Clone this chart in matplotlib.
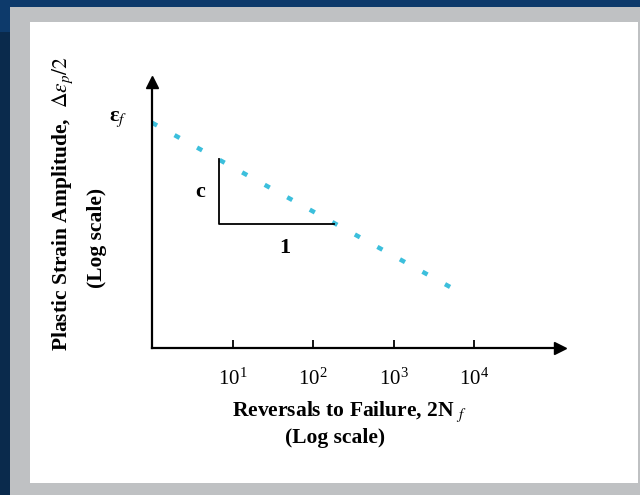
import matplotlib
matplotlib.use('Agg')
import matplotlib.pyplot as plt
from matplotlib.patches import Rectangle
from matplotlib.ticker import NullLocator

# values (both axes log scale)
reversals = [1, 5200]          # 2N_f at start / end of the dotted line
strain_amp = [1.0, 0.009]      # eps_p/2 at the same points
tri_x = [6.8, 6.8, 182]        # slope triangle corners
tri_y = [0.35, 0.0555, 0.0555]
xticks = [10, 100, 1000, 10000]
xlim = (1, 1.17e5)
ylim = (0.0016, 3.2)

W, H = 640, 495
plt.rcParams['font.family'] = ['Liberation Serif', 'DejaVu Serif']
plt.rcParams['mathtext.fontset'] = 'stix'

fig = plt.figure(figsize=(W / 100, H / 100), dpi=100)
fig.patch.set_facecolor('#0d3a6b')


def px_rect(x0, y0, x1, y1, color):
    # rectangle given in pixel coords, origin top-left
    fig.add_artist(Rectangle((x0 / W, 1 - y1 / H), (x1 - x0) / W, (y1 - y0) / H,
                             transform=fig.transFigure, facecolor=color,
                             edgecolor='none', zorder=-10))


px_rect(0, 32, 10, H, '#0a2a4c')
px_rect(10, 7, W, H, '#bfc1c3')
px_rect(30, 22, 638, 483, 'white')

ax = fig.add_axes([152 / W, 1 - 348 / H, (560 - 152) / W, (348 - 82) / H])
ax.patch.set_alpha(0)
ax.set_xscale('log')
ax.set_yscale('log')
ax.set_xlim(*xlim)
ax.set_ylim(*ylim)

for s in ['top', 'right']:
    ax.spines[s].set_visible(False)
for s in ['bottom', 'left']:
    ax.spines[s].set_linewidth(1.6)
    ax.spines[s].set_color('black')

# arrow heads
ax.plot(1, 0, '>k', ms=8, transform=ax.transAxes, clip_on=False)
ax.plot(0, 1, '^k', ms=8, transform=ax.transAxes, clip_on=False)

ax.set_xticks(xticks)
ax.xaxis.set_minor_locator(NullLocator())
ax.set_yticks([])
ax.yaxis.set_minor_locator(NullLocator())
ax.tick_params(axis='x', direction='in', length=6, width=1.3, pad=15, labelsize=15)

ax.plot(reversals, strain_amp, color='#3cbfdc', lw=3.2,
        linestyle=(0, (1.3, 4.49)), clip_on=False)
ax.plot(tri_x, tri_y, color='black', lw=1.3)

ax.text(4.0, 0.139, 'c', fontsize=16, fontweight='bold', ha='center', va='center')
ax.text(45, 0.028, '1', fontsize=16, fontweight='bold', ha='center', va='center')
ax.annotate('ε$_f$', xy=(1, 1.0), xytext=(-24, 3), textcoords='offset points',
            fontsize=16, fontweight='bold', ha='center', va='center',
            annotation_clip=False)

fig.text(350 / W, 1 - 412 / H, 'Reversals to Failure, 2N $_f$', fontsize=15.5,
         fontweight='bold', ha='center', va='center')
fig.text(335 / W, 1 - 438 / H, '(Log scale)', fontsize=15.5, fontweight='bold',
         ha='center', va='center')
fig.text(63 / W, 1 - 204 / H, r'Plastic Strain Amplitude,  $\Delta\varepsilon_p/2$',
         fontsize=15.5, fontweight='bold', rotation=90, ha='center', va='center')
fig.text(97 / W, 1 - 238 / H, '(Log scale)', fontsize=15.5, fontweight='bold',
         rotation=90, ha='center', va='center')

fig.savefig('out.png', dpi=100, facecolor=fig.get_facecolor())
